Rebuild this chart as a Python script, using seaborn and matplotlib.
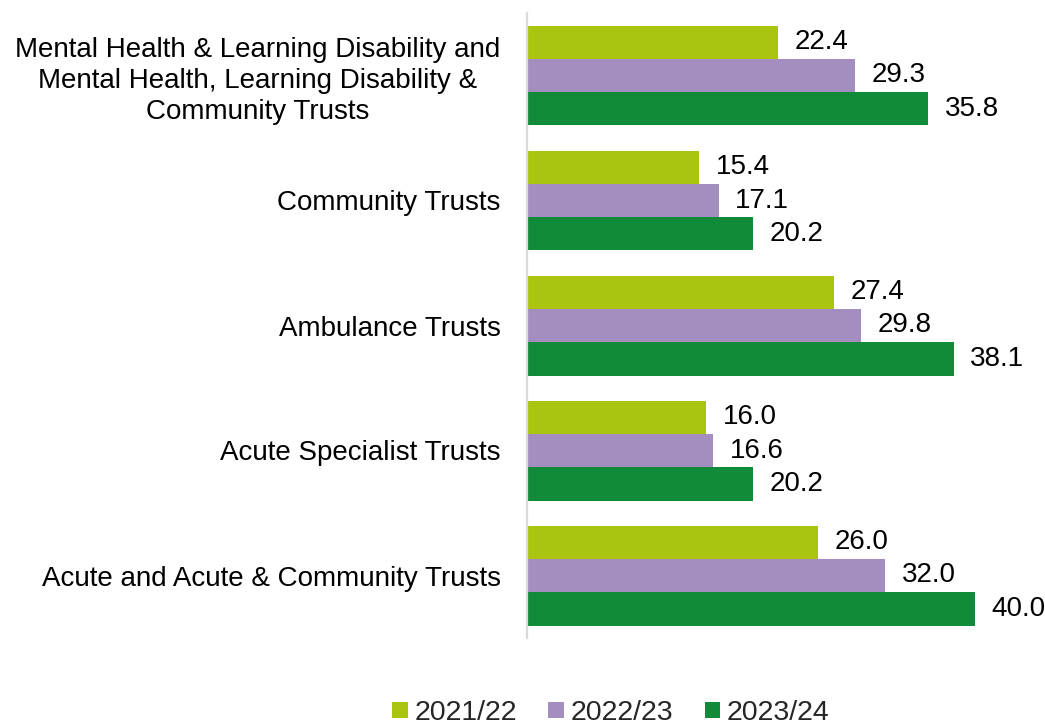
import matplotlib
matplotlib.use("Agg")
import matplotlib.pyplot as plt
import seaborn as sns
import pandas as pd

# Trust groups (top to bottom) and yearly values
categories = [
    "Mental Health & Learning Disability and\nMental Health, Learning Disability &\nCommunity Trusts",
    "Community Trusts",
    "Ambulance Trusts",
    "Acute Specialist Trusts",
    "Acute and Acute & Community Trusts",
]
years = ["2021/22", "2022/23", "2023/24"]
values_2021_22 = [22.4, 15.4, 27.4, 16.0, 26.0]
values_2022_23 = [29.3, 17.1, 29.8, 16.6, 32.0]
values_2023_24 = [35.8, 20.2, 38.1, 20.2, 40.0]
colors = ["#AAC40F", "#A48EC0", "#118A3A"]

rows = []
for year, vals in zip(years, [values_2021_22, values_2022_23, values_2023_24]):
    for cat, v in zip(categories, vals):
        rows.append({"category": cat, "year": year, "value": v})
df = pd.DataFrame(rows)

sns.set_theme(style="white")
plt.rcParams["font.family"] = ["Liberation Sans", "DejaVu Sans"]

fig = plt.figure(figsize=(10.45, 7.26), dpi=100)
ax = fig.add_axes([527 / 1045, (726 - 638) / 726, (1040 - 527) / 1045, 625 / 726])

sns.barplot(data=df, y="category", x="value", hue="year", order=categories,
            hue_order=years, palette=colors, orient="h", ax=ax,
            linewidth=0, saturation=1, width=0.8, errorbar=None)

ax.set_xlim(0, 513 / 11.2)
ax.set_xlabel("")
ax.set_ylabel("")
ax.set_xticks([])
for side in ["top", "right", "bottom"]:
    ax.spines[side].set_visible(False)
ax.spines["left"].set_color("#D9D9D9")
ax.spines["left"].set_linewidth(1.6)
ax.tick_params(axis="y", length=0, pad=19, labelsize=20)
for lbl in ax.get_yticklabels():
    lbl.set_multialignment("center")
    lbl.set_linespacing(1.25)
    lbl.set_color("black")

for container in ax.containers:
    ax.bar_label(container, fmt="%.1f", padding=12, fontsize=20, color="black")

handles, labels = ax.get_legend_handles_labels()
ax.legend_.remove()
fig.legend(handles, labels, loc="center", bbox_to_anchor=(611 / 1045, 1 - 713 / 726),
           ncol=3, frameon=False, fontsize=20.5, handlelength=0.53, handleheight=0.53,
           handletextpad=0.25, columnspacing=1.1, borderaxespad=0, borderpad=0)

fig.savefig("out.png", dpi=100)
